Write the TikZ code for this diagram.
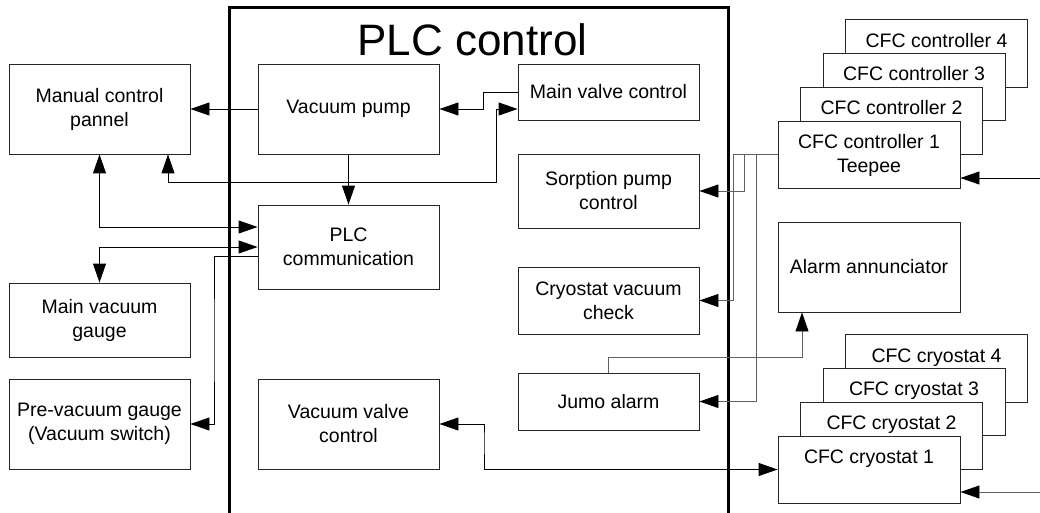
\documentclass[tikz,border=0pt]{standalone}
\usepackage{fontspec}
\setmainfont{Liberation Sans}
\usetikzlibrary{arrows.meta}
\begin{document}
\begin{tikzpicture}[x=1pt,y=-1pt,
  >={Triangle[length=19pt,width=13pt]},
  box/.style={draw=black!85, line width=0.9pt, fill=white, inner sep=0pt, align=center,
              font=\fontsize{19.5}{24}\selectfont, minimum width=181pt},
  lbl/.style={inner sep=0pt, align=center, font=\fontsize{19.5}{24}\selectfont},
  conn/.style={line width=0.9pt, draw=black},
  conng/.style={line width=0.9pt, draw=black!62, >={Triangle[length=19pt,width=13pt,color=black]}}
]
\useasboundingbox (0,0) rectangle (1040,513);
\clip (0,0) rectangle (1040,513);

% PLC frame
\draw[line width=3pt] (229,515) -- (229,8) -- (728,8) -- (728,515);
\node[font=\fontsize{44}{50}\selectfont, anchor=base, inner sep=0pt] (title) at (472.5,55.5) {PLC control};

% left boxes
\node[box, minimum height=90pt] (mcp) at (99.5,109) {Manual control\\pannel};
\node[box, minimum height=74pt] (mvg) at (99.5,320) {Main vacuum\\gauge};
\node[box, minimum height=90pt] (pvg) at (99.5,424) {Pre-vacuum gauge\\(Vacuum switch)};

% PLC inner boxes
\node[box, minimum height=90pt] (vp) at (348.5,109) {Vacuum pump};
\node[box, minimum height=84pt] (pc) at (348.5,247) {PLC\\communication};
\node[box, minimum height=90pt] (vvc) at (348.5,424) {Vacuum valve\\control};
\node[box, minimum height=56pt] (mvc) at (608.5,92) {Main valve control};
\node[box, minimum height=74pt] (spc) at (608.5,191) {Sorption pump\\control};
\node[box, minimum height=67pt] (cvc) at (608.5,300.5) {Cryostat vacuum\\check};
\node[box, minimum height=57pt] (ja) at (608.5,401.5) {Jumo alarm};

% right side
\node[box, minimum width=182pt, minimum height=90pt] (aa) at (869,267) {Alarm annunciator};

\node[box, minimum width=182pt, minimum height=68pt] (c4) at (936.5,53) {};
\node[lbl, anchor=north] (c4t) at ([yshift=-15pt]c4.north) {CFC controller 4};
\node[box, minimum width=182pt, minimum height=67pt] (c3) at (914,86.5) {};
\node[lbl, anchor=north] (c3t) at ([yshift=-14pt]c3.north) {CFC controller 3};
\node[box, minimum width=182pt, minimum height=67pt] (c2) at (891.5,120.5) {};
\node[lbl, anchor=north] (c2t) at ([yshift=-14pt]c2.north) {CFC controller 2};
\node[box, minimum width=182pt, minimum height=67pt] (c1) at (869,154.5) {};
\node[lbl, anchor=north] (c1t) at ([yshift=-14pt]c1.north) {CFC controller 1\\Teepee};

\node[box, minimum width=182pt, minimum height=68pt] (cr4) at (936.5,368) {};
\node[lbl, anchor=north] (cr4t) at ([yshift=-15pt]cr4.north) {CFC cryostat 4};
\node[box, minimum width=182pt, minimum height=67pt] (cr3) at (914,401.5) {};
\node[lbl, anchor=north] (cr3t) at ([yshift=-14pt]cr3.north) {CFC cryostat 3};
\node[box, minimum width=182pt, minimum height=67pt] (cr2) at (891.5,435.5) {};
\node[lbl, anchor=north] (cr2t) at ([yshift=-14pt]cr2.north) {CFC cryostat 2};
\node[box, minimum width=182pt, minimum height=67pt] (cr1) at (869,469.5) {};
\node[lbl, anchor=north] (cr1t) at ([yshift=-14pt]cr1.north) {CFC cryostat 1};

% connectors
\draw[conn,->] (vp.west) -- (mcp.east);
\draw[conn,->] (mvc.west) -- ++(-34,0) |- (vp.east);
\draw[conn,<->] (mcp.south -| 168,0) |- (496,182) |- ([yshift=-17pt]mvc.west);
\draw[conn,->] (vp.south) -- (pc.north);
\draw[conn,<->] (mcp.south) |- ([yshift=20pt]pc.west);
\draw[conn,<->] (mvg.north) |- (pc.west);
\draw[conn,->] ([yshift=-9pt]pc.west) -| (214,340) |- (pvg.east);
\draw[conn,<->] (vvc.east) -| (484,440) |- (cr1.west);

\draw[conng,->] (c1.west) -| (744,172) |- (spc.east);
\draw[conng,->] (c1.west) -| (733,230) |- (cvc.east);
\draw[conng,->] (c1.west) -| (756,300) |- (ja.east);
\draw[conng,->] (ja.north) |- (802,357) -- (aa.south -| 802,0);

\coordinate (in1) at (1041,178);
\draw[conn,->] (in1) -- (c1.east |- in1);
\coordinate (in2) at (1041,492);
\draw[conng,->] (in2) -- (cr1.east |- in2);
\end{tikzpicture}
\end{document}
